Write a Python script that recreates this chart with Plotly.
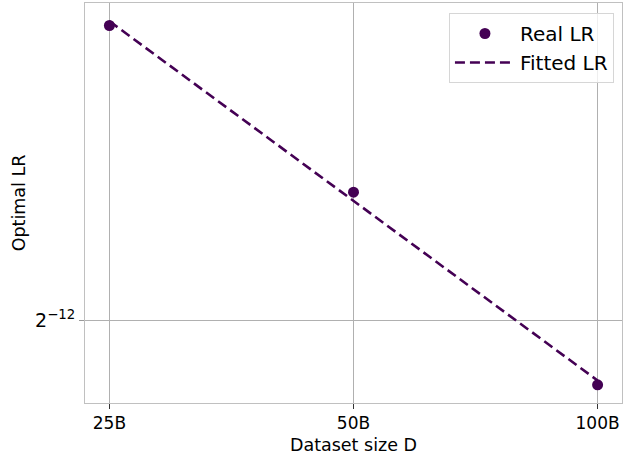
import numpy as np
import plotly.graph_objects as go

# Dataset sizes (billions of tokens) and measured optimal learning rates
dataset_b = [25, 50, 100]
real_lr = [4.88e-4, 3.30e-4, 2.10e-4]
x_tick_vals = [25, 50, 100]
x_tick_text = ["25B", "50B", "100B"]
y_tick_vals = [2 ** -12]
y_tick_text = ["2<sup>\u221212</sup>"]

color = "#440154"

# Power-law fit in log2 space
lx = np.log2(dataset_b)
ly = np.log2(real_lr)
slope, intercept = np.polyfit(lx, ly, 1)
fit_lr = 2 ** (intercept + slope * lx)

# Axis ranges with 5% padding in log space
x_pad = 0.05 * (lx.max() - lx.min())
all_y = np.concatenate([ly, np.log2(fit_lr)])
y_pad = 0.05 * (all_y.max() - all_y.min())
x_range = [np.log10(2 ** (lx.min() - x_pad)), np.log10(2 ** (lx.max() + x_pad))]
y_range = [np.log10(2 ** (all_y.min() - y_pad)), np.log10(2 ** (all_y.max() + y_pad))]

fig = go.Figure()
fig.add_trace(go.Scatter(
    x=dataset_b, y=real_lr, mode="markers", name="Real LR",
    marker=dict(color=color, size=11),
))
fig.add_trace(go.Scatter(
    x=dataset_b, y=fit_lr, mode="lines", name="Fitted LR",
    line=dict(color=color, width=2.6, dash="10px,5px"),
))

font = "DejaVu Sans, sans-serif"
fig.update_layout(
    width=623, height=461,
    margin=dict(l=85, r=1, t=3, b=58),
    plot_bgcolor="white", paper_bgcolor="white",
    font=dict(family=font, size=17, color="black"),
    legend=dict(
        x=0.985, y=0.975, xanchor="right", yanchor="top",
        bgcolor="rgba(255,255,255,0.8)", bordercolor="#d6d6d6", borderwidth=1,
        font=dict(family=font, size=20), itemwidth=60,
    ),
    xaxis=dict(
        type="log", range=x_range,
        tickvals=x_tick_vals, ticktext=x_tick_text,
        tickfont=dict(family=font, size=17),
        showgrid=True, gridcolor="#b0b0b0", gridwidth=1,
        showline=True, linecolor="#c0c0c0", mirror=True, linewidth=1,
        ticks="outside", ticklen=5, tickcolor="#333",
        title=dict(text="Dataset size D", font=dict(family=font, size=17.5), standoff=6),
        zeroline=False,
    ),
    yaxis=dict(
        type="log", range=y_range,
        tickvals=y_tick_vals, ticktext=y_tick_text,
        tickfont=dict(family=font, size=19),
        showgrid=True, gridcolor="#b0b0b0", gridwidth=1,
        showline=True, linecolor="#c0c0c0", mirror=True, linewidth=1,
        ticks="outside", ticklen=5, tickcolor="#999",
        title=dict(text="Optimal LR", font=dict(family=font, size=17.5), standoff=4),
        zeroline=False,
    ),
)

fig.write_html("out.html")
